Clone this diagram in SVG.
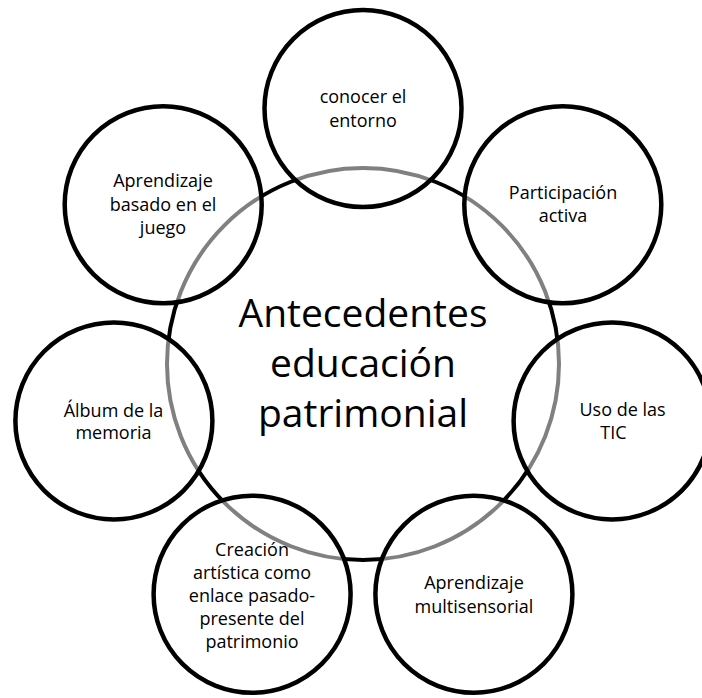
<svg xmlns="http://www.w3.org/2000/svg" width="702" height="698" viewBox="0 0 702 698">
  <style>
    .center { fill: #ffffff; stroke: #000000; stroke-width: 4; }
    .outer { fill: #ffffff; fill-opacity: 0.5; stroke: #000000; stroke-width: 4.5; }
    text { font-family: "Open Sans", "Noto Sans", sans-serif; fill: #000000; text-anchor: middle; }
    .big { font-size: 39px; }
    .small { font-size: 18px; }
  </style>
  <rect width="702" height="698" fill="#ffffff"/>
  <g id="node-center">
    <circle class="center" cx="363" cy="364" r="196"/>
    <text class="big" x="363" y="327">Antecedentes</text>
    <text class="big" x="363" y="377">educación</text>
    <text class="big" x="363" y="427">patrimonial</text>
  </g>
  <g id="node-conocer">
    <circle class="outer" cx="363" cy="108.5" r="98.5"/>
    <text class="small" x="363" y="103">conocer el</text>
    <text class="small" x="363" y="126.5">entorno</text>
  </g>
  <g id="node-participacion">
    <circle class="outer" cx="562.8" cy="204.7" r="98.5"/>
    <text class="small" x="563" y="199">Participación</text>
    <text class="small" x="563" y="222">activa</text>
  </g>
  <g id="node-tic">
    <circle class="outer" cx="612.1" cy="420.9" r="98.5"/>
    <text class="small" x="622.5" y="416">Uso de las</text>
    <text class="small" x="613.5" y="439">TIC</text>
  </g>
  <g id="node-multisensorial">
    <circle class="outer" cx="473.9" cy="594.2" r="98.5"/>
    <text class="small" x="474" y="589">Aprendizaje</text>
    <text class="small" x="474" y="613">multisensorial</text>
  </g>
  <g id="node-creacion">
    <circle class="outer" cx="252.1" cy="594.2" r="98.5"/>
    <text class="small" x="252" y="556">Creación</text>
    <text class="small" x="252" y="578.5">artística como</text>
    <text class="small" x="252" y="601.5">enlace pasado-</text>
    <text class="small" x="252" y="625">presente del</text>
    <text class="small" x="252" y="648">patrimonio</text>
  </g>
  <g id="node-album">
    <circle class="outer" cx="113.9" cy="420.9" r="98.5"/>
    <text class="small" x="113.5" y="417">Álbum de la</text>
    <text class="small" x="113.5" y="439">memoria</text>
  </g>
  <g id="node-juego">
    <circle class="outer" cx="163.2" cy="204.7" r="98.5"/>
    <text class="small" x="163" y="187">Aprendizaje</text>
    <text class="small" x="163" y="211">basado en el</text>
    <text class="small" x="163" y="234">juego</text>
  </g>
</svg>
